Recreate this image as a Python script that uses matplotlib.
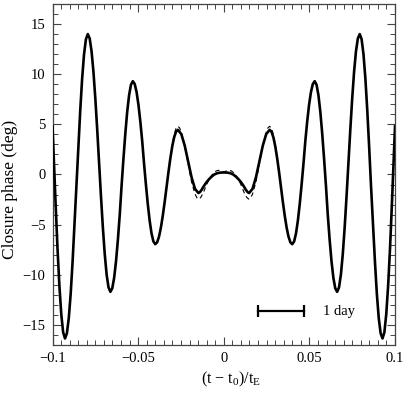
import matplotlib
matplotlib.use('Agg')
import matplotlib.pyplot as plt
from matplotlib.ticker import MultipleLocator

# ---- data (solid curve) ----
t_solid = [-0.1000, -0.0993, -0.0982, -0.0971, -0.0960, -0.0949, -0.0938, -0.0927,
           -0.0916, -0.0905, -0.0894, -0.0883, -0.0872, -0.0860, -0.0849, -0.0838,
           -0.0827, -0.0816, -0.0805, -0.0794, -0.0783, -0.0772, -0.0761, -0.0750,
           -0.0739, -0.0728, -0.0717, -0.0706, -0.0695, -0.0684, -0.0673, -0.0662,
           -0.0651, -0.0640, -0.0629, -0.0618, -0.0607, -0.0597, -0.0586, -0.0575,
           -0.0564, -0.0553, -0.0542, -0.0531, -0.0520, -0.0509, -0.0498, -0.0487,
           -0.0476, -0.0466, -0.0455, -0.0444, -0.0433, -0.0422, -0.0411, -0.0400,
           -0.0389, -0.0378, -0.0367, -0.0356, -0.0345, -0.0334, -0.0323, -0.0312,
           -0.0301, -0.0290, -0.0279, -0.0268, -0.0248, -0.0228, -0.0208, -0.0188,
           -0.0168, -0.0148, -0.0139, -0.0128, -0.0115, -0.0100, -0.0085, -0.0070,
           -0.0055, -0.0040, -0.0020,
           0.0000,
           0.0020, 0.0040, 0.0055, 0.0070, 0.0085, 0.0100, 0.0115, 0.0128,
           0.0139, 0.0148, 0.0168, 0.0188, 0.0208, 0.0228, 0.0248, 0.0268,
           0.0279, 0.0290, 0.0301, 0.0312, 0.0323, 0.0334, 0.0345, 0.0356,
           0.0367, 0.0378, 0.0389, 0.0400, 0.0411, 0.0422, 0.0433, 0.0444,
           0.0455, 0.0466, 0.0476, 0.0487, 0.0498, 0.0509, 0.0520, 0.0531,
           0.0542, 0.0553, 0.0564, 0.0575, 0.0586, 0.0597, 0.0607, 0.0618,
           0.0629, 0.0640, 0.0651, 0.0662, 0.0673, 0.0684, 0.0695, 0.0706,
           0.0717, 0.0728, 0.0739, 0.0750, 0.0761, 0.0772, 0.0783, 0.0794,
           0.0805, 0.0816, 0.0827, 0.0838, 0.0849, 0.0860, 0.0872, 0.0883,
           0.0894, 0.0905, 0.0916, 0.0927, 0.0938, 0.0949, 0.0960, 0.0971,
           0.0982, 0.0993, 0.1000]
phase_solid = [4.80, 1.80, -2.90, -7.33, -11.04, -13.91, -15.73, -16.35,
               -15.83, -14.32, -11.91, -8.76, -5.10, -1.18, 2.75, 6.41,
               9.56, 11.97, 13.48, 14.00, 13.56, 12.28, 10.24, 7.58,
               4.48, 1.15, -2.18, -5.28, -7.94, -9.98, -11.26, -11.70,
               -11.34, -10.29, -8.63, -6.45, -3.92, -1.20, 1.52, 4.05,
               6.23, 7.89, 8.94, 9.30, 9.02, 8.21, 6.92, 5.24,
               3.28, 1.18, -0.93, -2.89, -4.57, -5.86, -6.67, -6.95,
               -6.76, -6.19, -5.28, -4.10, -2.73, -1.25, 0.23, 1.60,
               2.78, 3.69, 4.26, 4.45, 4.03, 2.88, 1.30, -0.28,
               -1.43, -1.85, -1.75, -1.50, -1.12, -0.75, -0.45, -0.20,
               0.00, 0.12, 0.19,
               0.20,
               0.19, 0.12, 0.00, -0.20, -0.45, -0.75, -1.12, -1.50,
               -1.75, -1.85, -1.43, -0.28, 1.30, 2.88, 4.03, 4.45,
               4.26, 3.69, 2.78, 1.60, 0.23, -1.25, -2.73, -4.10,
               -5.28, -6.19, -6.76, -6.95, -6.67, -5.86, -4.57, -2.89,
               -0.93, 1.18, 3.28, 5.24, 6.92, 8.21, 9.02, 9.30,
               8.94, 7.89, 6.23, 4.05, 1.52, -1.20, -3.92, -6.45,
               -8.63, -10.29, -11.34, -11.70, -11.26, -9.98, -7.94, -5.28,
               -2.18, 1.15, 4.48, 7.58, 10.24, 12.28, 13.56, 14.00,
               13.48, 11.97, 9.56, 6.41, 2.75, -1.18, -5.10, -8.76,
               -11.91, -14.32, -15.83, -16.35, -15.73, -13.91, -11.04, -7.33,
               -2.90, 1.80, 4.80]

# ---- dashed curve (differs from the solid one only near the centre) ----
t_dash = [-0.0345, -0.0334, -0.0323, -0.0312, -0.0301, -0.0290, -0.0279, -0.0268,
          -0.0258, -0.0248, -0.0228, -0.0208, -0.0188, -0.0168, -0.0155, -0.0145,
          -0.0135, -0.0120, -0.0100, -0.0080, -0.0060, -0.0045, -0.0030, -0.0015,
          0.0000,
          0.0015, 0.0030, 0.0045, 0.0060, 0.0080, 0.0100, 0.0120, 0.0135,
          0.0145, 0.0155, 0.0168, 0.0188, 0.0208, 0.0228, 0.0248, 0.0258,
          0.0268, 0.0279, 0.0290, 0.0301, 0.0312, 0.0323, 0.0334, 0.0345]
phase_dash = [-2.73, -1.25, 0.22, 1.65, 2.95, 3.95, 4.60, 4.80,
              4.65, 4.20, 2.85, 1.05, -0.75, -1.95, -2.38, -2.45,
              -2.30, -1.85, -1.00, -0.30, 0.15, 0.35, 0.42, 0.35,
              0.25,
              0.35, 0.42, 0.35, 0.15, -0.30, -1.00, -1.85, -2.30,
              -2.45, -2.38, -1.95, -0.75, 1.05, 2.85, 4.20, 4.65,
              4.80, 4.60, 3.95, 2.95, 1.65, 0.22, -1.25, -2.73]

# ---- scale bar ----
scale_bar_t = [0.0198, 0.0469]
scale_bar_phase = -13.65
scale_bar_label = '1 day'

x_ticks = [-0.1, -0.05, 0.0, 0.05, 0.1]
x_tick_labels = ['\u22120.1', '\u22120.05', '0', '0.05', '0.1']
y_ticks = [-15, -10, -5, 0, 5, 10, 15]
y_tick_labels = ['\u221215', '\u221210', '\u22125', '0', '5', '10', '15']

plt.rcParams['font.family'] = ['Liberation Serif', 'DejaVu Serif']
plt.rcParams['mathtext.fontset'] = 'custom'
plt.rcParams['mathtext.rm'] = 'Liberation Serif'
plt.rcParams['mathtext.it'] = 'Liberation Serif:italic'
plt.rcParams['mathtext.default'] = 'rm'

fig = plt.figure(figsize=(4.09, 3.94), dpi=100)
ax = fig.add_axes([0.1284, 0.1244, 0.8374, 0.8655])

ax.plot(t_dash, phase_dash, color='k', lw=0.8, ls=(0, (4, 3)), zorder=2)
ax.plot(t_solid, phase_solid, color='k', lw=1.9, zorder=3,
        solid_joinstyle='round')
ax.plot(scale_bar_t, [scale_bar_phase, scale_bar_phase], color='k', lw=1.6,
        marker='|', ms=9, mew=1.6, zorder=3)
ax.text(0.0578, scale_bar_phase, scale_bar_label, ha='left', va='center',
        fontsize=10.5)

ax.set_xlim(-0.1, 0.1)
ax.set_ylim(-17, 17)
ax.set_xticks(x_ticks)
ax.set_xticklabels(x_tick_labels)
ax.set_yticks(y_ticks)
ax.set_yticklabels(y_tick_labels)
ax.xaxis.set_minor_locator(MultipleLocator(0.005))
ax.yaxis.set_minor_locator(MultipleLocator(1))
ax.tick_params(which='both', direction='in', top=True, right=True,
               color='#444444', labelsize=10.5)
ax.tick_params(which='major', length=6, width=0.8)
ax.tick_params(which='minor', length=3.5, width=0.7)
ax.tick_params(axis='x', pad=5)
ax.tick_params(axis='y', pad=5)
for s in ax.spines.values():
    s.set_color('#444444')
    s.set_linewidth(0.9)

ax.set_xlabel('(t \u2212 t$_0$)/t$_\\mathrm{E}$', fontsize=11.5)
ax.xaxis.set_label_coords(0.52, -0.072)
ax.set_ylabel('Closure phase (deg)', fontsize=12.5)
ax.yaxis.set_label_coords(-0.10, 0.455)

fig.savefig('out.png', dpi=100)
